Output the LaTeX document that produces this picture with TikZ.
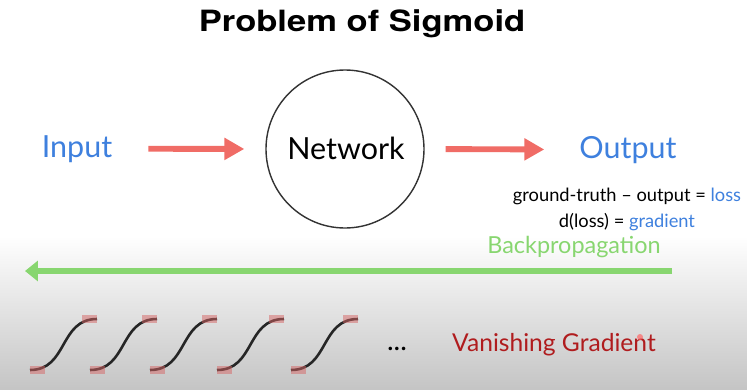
\documentclass[tikz,border=0pt]{standalone}
\usepackage{fontspec}
\setmainfont{Lato}
\newfontfamily\titlefont[FakeStretch=1.18]{TeX Gyre Heros}
\usetikzlibrary{arrows.meta}

\definecolor{inblue}{RGB}{62,128,222}
\definecolor{fwdred}{RGB}{240,108,102}
\definecolor{bpgreen}{RGB}{136,214,112}
\definecolor{vgred}{RGB}{176,28,30}
\definecolor{capred}{RGB}{214,100,100}

\tikzset{
  lbl/.style={anchor=base,inner sep=0pt},
  fwd/.style={draw=fwdred,line width=5pt,-{Triangle[length=17pt,width=18pt]}},
  back/.style={draw=bpgreen,line width=5pt,-{Triangle[length=11pt,width=17pt]}},
  sig/.style={line width=2.2pt,black!85},
  endbox/.style={fill=capred,fill opacity=0.5}
}

\begin{document}
\begin{tikzpicture}[x=0.03cm,y=-0.03cm]
\useasboundingbox (0,0) rectangle (747,390);
\fill[white] (0,0) rectangle (747,240);
\shade[top color=white,bottom color=black!23] (0,236) rectangle (747,390);

\node[lbl] (title) at (362,31) {\titlefont\bfseries\fontsize{25}{30}\selectfont Problem of Sigmoid};

\node[lbl,text=inblue] (in) at (77,157) {\fontsize{26}{30}\selectfont Input};
\node[draw=black!80,line width=1.2pt,circle,minimum size=4.74cm] (net) at (345,149) {};
\node[lbl] (nettxt) at (346,159) {\fontsize{26}{30}\selectfont Network};
\node[lbl,text=inblue] (out) at (628,158) {\fontsize{26}{30}\selectfont Output};

\draw[fwd,shorten <=1.08cm,shorten >=0.63cm] (in.east) -- (net.west);
\draw[fwd,shorten <=0.63cm,shorten >=1.05cm] (net.east) -- (out.west);

\node[lbl] (eq1) at (627,201) {\fontsize{15.6}{18}\selectfont ground-truth -- output = \textcolor{inblue}{loss}};
\node[lbl] (eq2) at (627,227) {\fontsize{15.6}{18}\selectfont d(loss) = \textcolor{inblue}{gradient}};
\node[lbl,text=bpgreen] (bp) at (574,253) {\fontsize{20}{24}\selectfont Backpropagation};

\coordinate (bpR) at (672,271);
\coordinate (bpL) at (25,271);
\draw[back] (bpR) -- (bpL);

% sigmoids
\foreach \sx in {30,90,150,217,291}{
  \draw[sig] (\sx,370) .. controls (\sx+38,370) and (\sx+29,319) .. (\sx+67,319);
  \fill[endbox] (\sx,366) rectangle (\sx+15,374);
  \fill[endbox] (\sx+52,315) rectangle (\sx+67,323);
}

\node[lbl] (dots) at (397,350) {\fontsize{24}{28}\selectfont ...};
\node[lbl,text=vgred] (vg) at (554,351) {\fontsize{21}{24}\selectfont Vanishing Gradient};
\fill[red!60,opacity=0.7] (640,337) circle (3);
\end{tikzpicture}
\end{document}
